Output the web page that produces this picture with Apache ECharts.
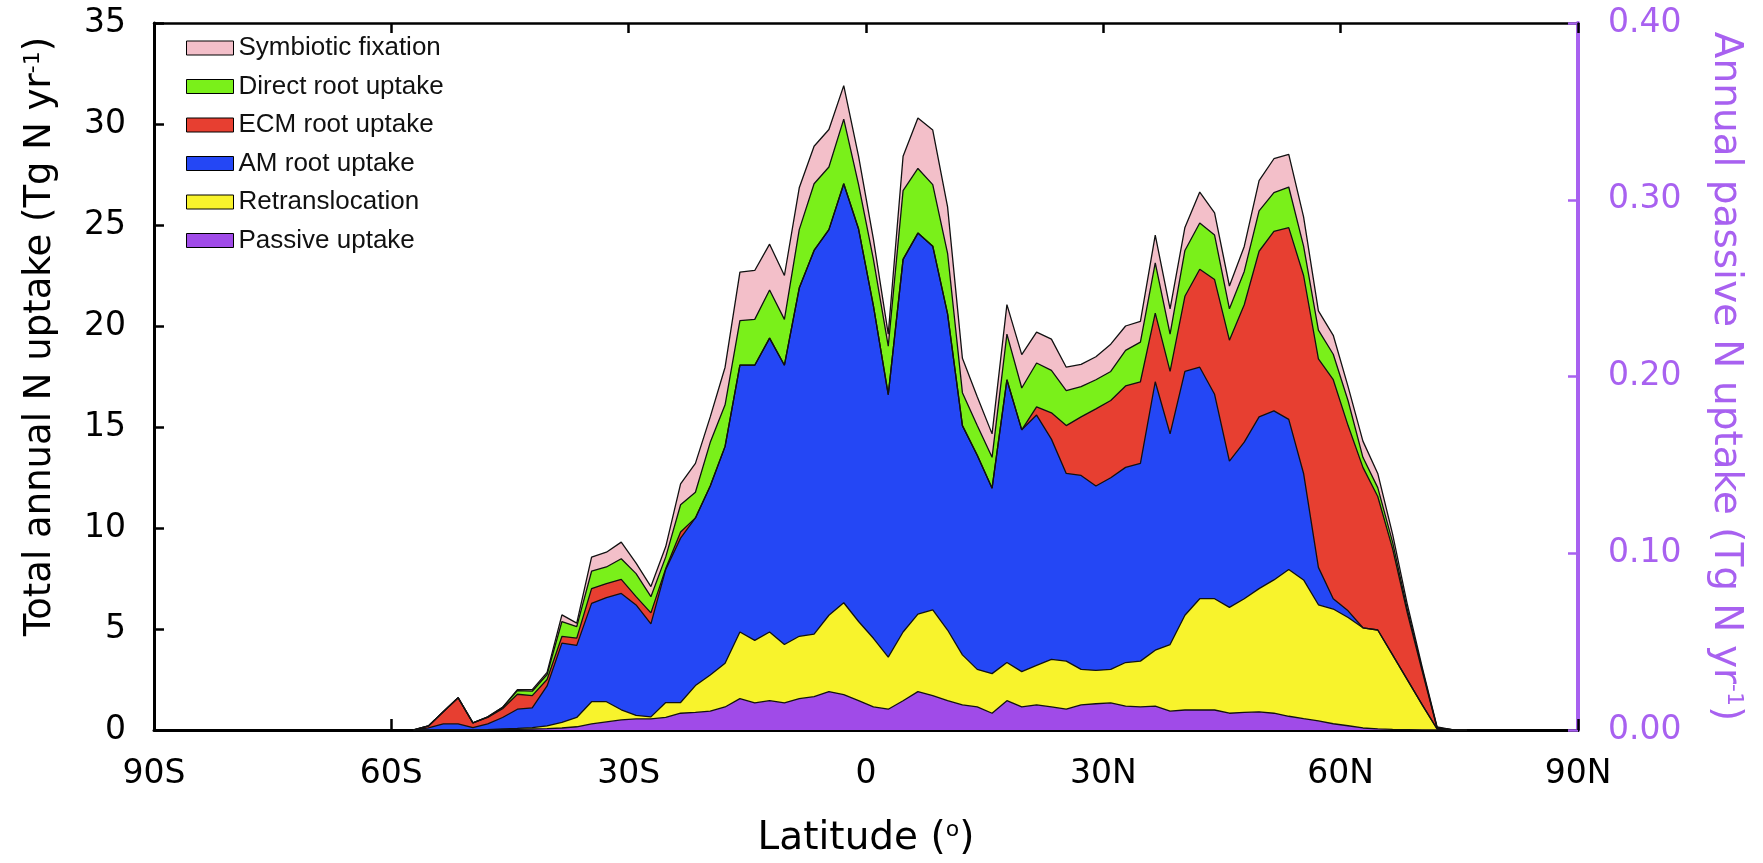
<!DOCTYPE html>
<html>
<head>
<meta charset="utf-8">
<title>Annual N uptake by latitude</title>
<script src="https://cdn.jsdelivr.net/npm/echarts@6/dist/echarts.min.js"></script>
<style>
  html, body { margin: 0; padding: 0; background: #fff; }
  #chart { width: 1763px; height: 863px; }
</style>
</head>
<body>
<div id="chart"></div>
<script>
// latitude bands (deg, south negative)
var lats = [-57.1875, -55.3125, -53.4375, -51.5625, -49.6875, -47.8125, -45.9375, -44.0625,
    -42.1875, -40.3125, -38.4375, -36.5625, -34.6875, -32.8125, -30.9375, -29.0625,
    -27.1875, -25.3125, -23.4375, -21.5625, -19.6875, -17.8125, -15.9375, -14.0625,
    -12.1875, -10.3125, -8.4375, -6.5625, -4.6875, -2.8125, -0.9375, 0.9375,
    2.8125, 4.6875, 6.5625, 8.4375, 10.3125, 12.1875, 14.0625, 15.9375,
    17.8125, 19.6875, 21.5625, 23.4375, 25.3125, 27.1875, 29.0625, 30.9375,
    32.8125, 34.6875, 36.5625, 38.4375, 40.3125, 42.1875, 44.0625, 45.9375,
    47.8125, 49.6875, 51.5625, 53.4375, 55.3125, 57.1875, 59.0625, 60.9375,
    62.8125, 64.6875, 66.5625, 68.4375, 70.3125, 72.1875, 74.0625, 75.9375];

// Tg N yr-1 per band (bottom layer first)
var passive = [0, 0, 0, 0, 0, 0, 0.02, 0.03, 0.05, 0.07, 0.1, 0.16, 0.3, 0.4, 0.5, 0.55,
    0.55, 0.62, 0.83, 0.87, 0.93, 1.14, 1.55, 1.34, 1.45, 1.34, 1.55, 1.65, 1.9, 1.75, 1.45, 1.14,
    1.03, 1.45, 1.9, 1.7, 1.45, 1.24, 1.14, 0.83, 1.45, 1.14, 1.24, 1.14, 1.03, 1.24, 1.3, 1.34,
    1.18, 1.14, 1.18, 0.93, 0.99, 0.99, 0.99, 0.83, 0.87, 0.9, 0.83, 0.68, 0.56, 0.45, 0.31, 0.21,
    0.1, 0.06, 0.03, 0.02, 0.01, 0, 0, 0];
var retrans = [0, 0, 0, 0, 0, 0.02, 0.03, 0.05, 0.07, 0.13, 0.28, 0.46, 1.1, 1.0, 0.5, 0.17,
    0.1, 0.74, 0.53, 1.33, 1.79, 2.16, 3.3, 3.1, 3.4, 2.89, 3.09, 3.1, 3.78, 4.55, 3.92, 3.4,
    2.58, 3.4, 3.84, 4.25, 3.5, 2.48, 1.86, 1.96, 1.89, 1.75, 1.96, 2.36, 2.38, 1.76, 1.65, 1.66,
    2.16, 2.27, 2.77, 3.3, 4.69, 5.51, 5.51, 5.24, 5.63, 6.1, 6.6, 7.27, 6.87, 5.75, 5.68, 5.36,
    4.96, 4.89, 3.69, 2.46, 1.23, 0.05, 0, 0];
var amRoot = [0, 0.1, 0.3, 0.3, 0.12, 0.28, 0.57, 0.95, 0.98, 1.98, 3.92, 3.57, 4.87, 5.15, 5.76, 5.47,
    4.6, 6.59, 8.14, 8.3, 9.36, 10.74, 13.21, 13.62, 14.55, 13.83, 17.24, 18.99, 19.09, 20.74, 19.43, 16.46,
    12.99, 18.45, 18.86, 18.0, 15.65, 11.35, 10.6, 9.18, 14.0, 11.97, 12.39, 10.9, 9.29, 9.6, 9.13, 9.49,
    9.66, 9.79, 13.29, 10.43, 12.07, 11.46, 10.12, 7.24, 7.75, 8.5, 8.37, 7.43, 5.27, 1.85, 0.51, 0.33,
    0, 0, 0, 0, 0, 0, 0, 0];
var ecmRoot = [0, 0.1, 0.6, 1.3, 0.23, 0.32, 0.43, 0.74, 0.6, 0.32, 0.33, 0.36, 0.73, 0.7, 0.7, 0.41,
    0.55, 0.05, 0.3, 0, 0, 0, 0, 0, 0, 0, 0, 0, 0, 0, 0, 0,
    0, 0, 0, 0, 0, 0, 0, 0, 0, 0, 0.41, 1.3, 2.37, 2.9, 3.82, 3.82,
    4.03, 4.04, 3.4, 3.09, 3.72, 4.85, 5.68, 5.99, 6.8, 8.2, 8.88, 9.49, 9.8, 10.32, 10.84, 9.17,
    7.94, 6.61, 5.26, 3.3, 1.66, 0.05, 0.02, 0];
var directRoot = [0, 0, 0, 0, 0, 0.03, 0.07, 0.18, 0.22, 0.25, 0.74, 0.57, 0.86, 0.82, 1.02, 1.14,
    0.8, 0.57, 1.35, 1.27, 2.16, 2.06, 2.21, 2.27, 2.38, 2.27, 2.89, 3.3, 3.1, 3.2, 2.2, 2.3,
    2.4, 3.4, 3.2, 3.05, 3.0, 1.63, 1.47, 1.53, 2.26, 2.07, 2.17, 2.1, 1.73, 1.5, 1.44, 1.44,
    1.76, 1.96, 2.48, 1.85, 2.27, 2.29, 2.2, 1.55, 1.65, 2.0, 1.92, 2.01, 1.45, 1.43, 1.26, 1.23,
    0.5, 0.44, 0.32, 0.17, 0.1, 0.02, 0, 0];
var symbiotic = [0, 0, 0, 0, 0, 0, 0, 0.05, 0.08, 0.1, 0.33, 0.17, 0.7, 0.73, 0.82, 0.52,
    0.5, 0.51, 1.03, 1.43, 1.26, 1.86, 2.4, 2.42, 2.27, 2.17, 2.07, 1.86, 1.86, 1.66, 1.4, 1.0,
    0.6, 1.7, 2.5, 2.7, 2.3, 1.7, 1.43, 1.16, 1.46, 1.65, 1.53, 1.55, 1.16, 1.1, 1.14, 1.35,
    1.21, 1.03, 1.38, 1.25, 1.14, 1.53, 1.1, 1.13, 1.24, 1.5, 1.68, 1.62, 1.45, 0.95, 0.94, 0.7,
    0.8, 0.7, 0.4, 0.25, 0.1, 0.03, 0, 0];

var latTicks = ['90S', '60S', '30S', '0', '30N', '60N', '90N'];

var layerNames = ['Passive uptake', 'Retranslocation', 'AM root uptake',
    'ECM root uptake', 'Direct root uptake', 'Symbiotic fixation'];
var layerData = [passive, retrans, amRoot, ecmRoot, directRoot, symbiotic];
var layerColors = ['#a04be8', '#f8f32c', '#2447f5', '#e73f31', '#7af01a', '#f3bfc9'];

var purple = '#a861f0';
var axisFont = 'DejaVu Sans';

// running totals, so each layer sits on the ones below it
var running = lats.map(function () { return 0; });
var cumulative = layerData.map(function (vals) {
    running = running.map(function (s, i) { return s + vals[i]; });
    return running.map(function (s, i) { return [lats[i], +s.toFixed(3)]; });
});

var chart = echarts.init(document.getElementById('chart'));

// draw the tallest running total first; lower layers paint over it
var series = [];
for (var k = layerNames.length - 1; k >= 0; k--) {
    series.push({
        name: layerNames[k],
        type: 'line',
        symbol: 'none',
        color: layerColors[k],
        lineStyle: { color: '#111', width: 1.3 },
        areaStyle: { color: layerColors[k], opacity: 1, origin: 'start' },
        data: cumulative[k]
    });
}

var option = {
    animation: false,
    backgroundColor: '#fff',
    grid: { left: 154, right: 185, top: 23, bottom: 127, containLabel: false },
    legend: {
        orient: 'vertical',
        left: 181,
        top: 30,
        icon: 'rect',
        itemWidth: 47,
        itemHeight: 14,
        itemGap: 12.5,
        itemStyle: { borderColor: '#000', borderWidth: 1 },
        textStyle: { fontFamily: 'Liberation Sans', fontSize: 26, lineHeight: 26, color: '#111' },
        data: layerNames.slice().reverse()
    },
    xAxis: [{
        type: 'value',
        position: 'bottom',
        min: -90, max: 90, interval: 30,
        axisLine: { onZero: false, lineStyle: { color: '#000', width: 3 } },
        axisTick: { inside: true, length: 11, lineStyle: { color: '#000', width: 2.5 } },
        splitLine: { show: false },
        axisLabel: {
            margin: 28,
            color: '#000',
            fontFamily: axisFont,
            fontSize: 33,
            formatter: function (v) { return latTicks[(v + 90) / 30]; }
        },
        name: 'Latitude ({sup|o})',
        nameLocation: 'middle',
        nameGap: 89,
        nameTextStyle: {
            color: '#000', fontFamily: axisFont, fontSize: 39,
            rich: { sup: { fontSize: 22, verticalAlign: 'top', fontFamily: axisFont, color: '#000' } }
        }
    }, {
        type: 'value',
        position: 'top',
        min: -90, max: 90, interval: 30,
        axisLine: { onZero: false, lineStyle: { color: '#000', width: 2.5 } },
        axisTick: { inside: true, length: 10, lineStyle: { color: '#000', width: 2.5 } },
        axisLabel: { show: false },
        splitLine: { show: false }
    }],
    yAxis: [{
        type: 'value',
        position: 'left',
        min: 0, max: 35, interval: 5,
        axisLine: { show: true, onZero: false, lineStyle: { color: '#000', width: 3 } },
        axisTick: { show: true, inside: true, length: 10, lineStyle: { color: '#000', width: 2.5 } },
        splitLine: { show: false },
        axisLabel: { margin: 28, color: '#000', fontFamily: axisFont, fontSize: 33 },
        name: 'Total annual N uptake (Tg N yr{sup|-1})',
        nameLocation: 'middle',
        nameRotate: 90,
        nameGap: 95,
        nameTextStyle: {
            color: '#000', fontFamily: axisFont, fontSize: 37,
            padding: [0, 0, 0, 80],
            rich: { sup: { fontSize: 22, verticalAlign: 'top', fontFamily: axisFont, color: '#000' } }
        }
    }, {
        type: 'value',
        position: 'right',
        min: 0, max: 0.4, interval: 0.1,
        axisLine: { show: true, onZero: false, lineStyle: { color: purple, width: 4 } },
        axisTick: { show: true, inside: true, length: 10, lineStyle: { color: purple, width: 2.5 } },
        splitLine: { show: false },
        axisLabel: {
            margin: 30, color: purple, fontFamily: axisFont, fontSize: 33,
            formatter: function (v) { return v.toFixed(2); }
        },
        name: 'Annual passive N uptake (Tg N yr{sup|-1})',
        nameLocation: 'middle',
        nameRotate: -90,
        nameGap: 128,
        nameTextStyle: {
            color: purple, fontFamily: axisFont, fontSize: 39,
            rich: { sup: { fontSize: 22, verticalAlign: 'top', fontFamily: axisFont, color: purple } }
        }
    }],
    series: series
};

chart.setOption(option);
</script>
</body>
</html>
